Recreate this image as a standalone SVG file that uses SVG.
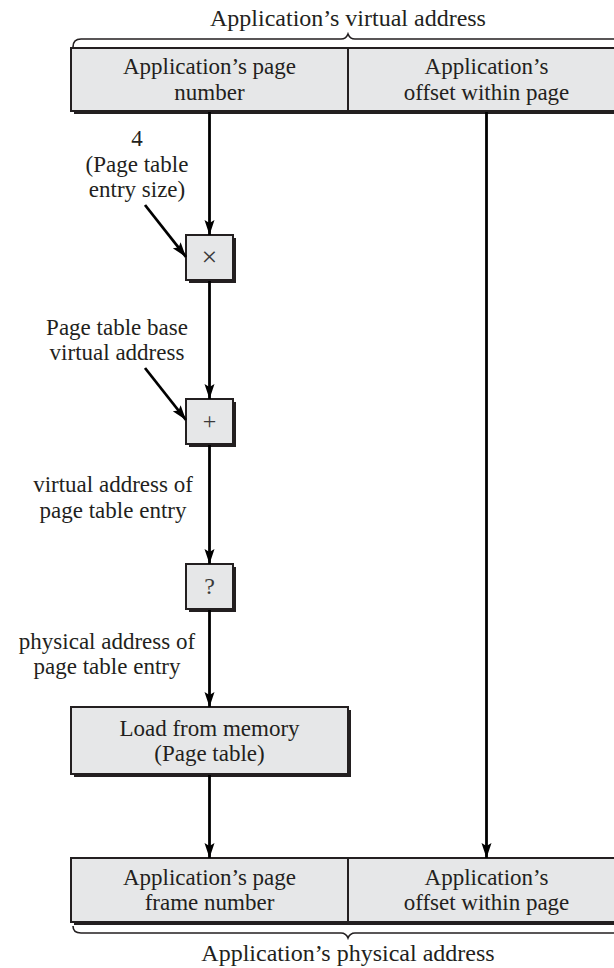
<svg xmlns="http://www.w3.org/2000/svg" width="614" height="968" viewBox="0 0 614 968">
<style>
text{font-family:"Liberation Serif","Times New Roman",serif;font-size:23px;fill:#231f20;text-anchor:middle}
.big{font-size:24px}
.sym{fill:#3a3a3a}
.box{fill:#e6e7e8;stroke:#231f20;stroke-width:2}
.shadow{fill:#231f20}
.divider{stroke:#231f20;stroke-width:2}
.edge{stroke:#000;stroke-width:2.8;fill:none}
.brace{stroke:#231f20;stroke-width:1.6;fill:none}
</style>
<defs>
<marker id="arr" markerUnits="userSpaceOnUse" markerWidth="16" markerHeight="12" refX="15" refY="5" orient="auto">
<path d="M0,0 L15,5 L0,10 L3,5 Z" fill="#000"/>
</marker>
</defs>
<g id="virtual-title">
<text class="big" x="348" y="26">Application’s virtual address</text>
<path class="brace" d="M73,47 Q73,39 81,39 L341,39 Q346,39 348,34 Q350,39 355,39 L615,39 Q623,39 623,47"/>
</g>
<g id="virtual-address">
<rect class="shadow" x="74" y="51" width="554" height="63"/>
<rect class="box" x="71" y="48" width="554" height="63"/>
<line class="divider" x1="348" y1="48" x2="348" y2="111"/>
<text x="209.5" y="74">Application’s page<tspan x="209.5" dy="25.6">number</tspan></text>
<text x="486.5" y="74">Application’s<tspan x="486.5" dy="25.6">offset within page</tspan></text>
</g>
<g id="label-entry-size">
<text x="137" y="146">4<tspan x="137" dy="25.6">(Page table</tspan><tspan x="137" dy="25.6">entry size)</tspan></text>
</g>
<g id="multiply">
<rect class="shadow" x="189" y="238" width="47" height="45"/>
<rect class="box" x="186" y="235" width="47" height="45"/>
<text class="sym" x="209.5" y="266" style="font-size:28px">×</text>
</g>
<g id="label-base">
<text x="117" y="334.5">Page table base<tspan x="117" dy="25.6">virtual address</tspan></text>
</g>
<g id="add">
<rect class="shadow" x="189" y="402" width="47" height="45"/>
<rect class="box" x="186" y="399" width="47" height="45"/>
<text class="sym" x="209.5" y="429" style="font-size:24px">+</text>
</g>
<g id="label-vaddr">
<text x="113" y="492">virtual address of<tspan x="113" dy="25.6">page table entry</tspan></text>
</g>
<g id="translate">
<rect class="shadow" x="189" y="567" width="47" height="45"/>
<rect class="box" x="186" y="564" width="47" height="45"/>
<text class="sym" x="209.5" y="594" style="font-size:24px">?</text>
</g>
<g id="label-paddr">
<text x="107" y="648.5">physical address of<tspan x="107" dy="25.6">page table entry</tspan></text>
</g>
<g id="load">
<rect class="shadow" x="74" y="710" width="277" height="67"/>
<rect class="box" x="71" y="707" width="277" height="67"/>
<text x="209.5" y="735.5">Load from memory<tspan x="209.5" dy="25.6">(Page table)</tspan></text>
</g>
<g id="physical-address">
<rect class="shadow" x="74" y="861" width="554" height="64"/>
<rect class="box" x="71" y="858" width="554" height="64"/>
<line class="divider" x1="348" y1="858" x2="348" y2="922"/>
<text x="209.5" y="884.5">Application’s page<tspan x="209.5" dy="25.6">frame number</tspan></text>
<text x="486.5" y="884.5">Application’s<tspan x="486.5" dy="25.6">offset within page</tspan></text>
</g>
<g id="physical-title">
<path class="brace" d="M73,926 Q73,933 81,933 L341,933 Q346,933 348,938 Q350,933 355,933 L615,933 Q623,933 623,926"/>
<text class="big" x="348" y="961">Application’s physical address</text>
</g>
<g id="connectors">
<line class="edge" x1="209.5" y1="112" x2="209.5" y2="235" marker-end="url(#arr)"/>
<line class="edge" x1="145" y1="205" x2="186" y2="257" marker-end="url(#arr)"/>
<line class="edge" x1="209.5" y1="281" x2="209.5" y2="399" marker-end="url(#arr)"/>
<line class="edge" x1="145" y1="368" x2="186" y2="420" marker-end="url(#arr)"/>
<line class="edge" x1="209.5" y1="445" x2="209.5" y2="564" marker-end="url(#arr)"/>
<line class="edge" x1="209.5" y1="610" x2="209.5" y2="707" marker-end="url(#arr)"/>
<line class="edge" x1="209.5" y1="775" x2="209.5" y2="858" marker-end="url(#arr)"/>
<line class="edge" x1="486.5" y1="112" x2="486.5" y2="858" marker-end="url(#arr)"/>
</g>
</svg>
